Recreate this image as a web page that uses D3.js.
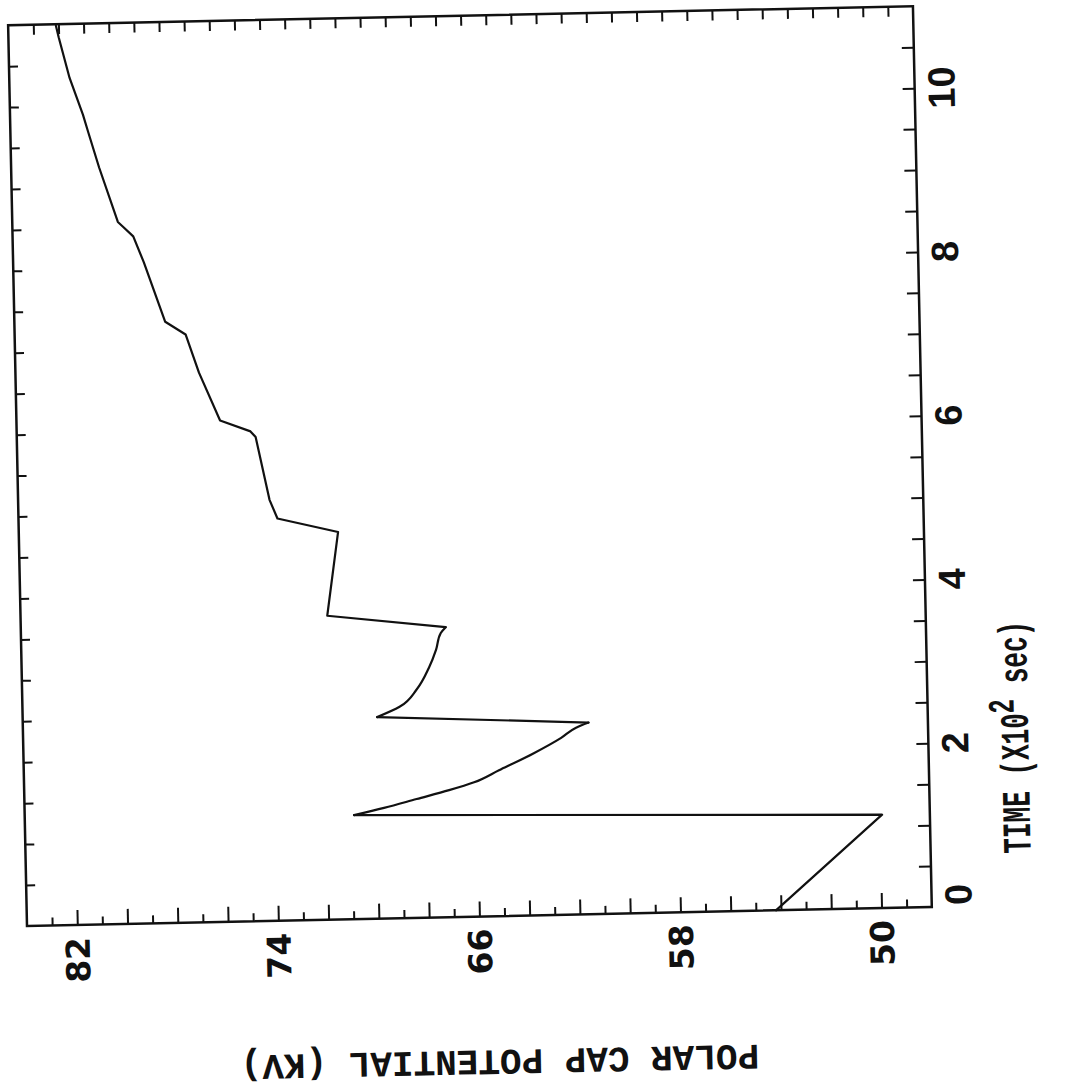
<!DOCTYPE html>
<html>
<head>
<meta charset="utf-8">
<script src="https://cdn.jsdelivr.net/npm/d3@7"></script>
<style>
body { margin: 0; background: #fff; }
svg { display: block; }
</style>
</head>
<body>
<svg id="chart"></svg>
<script>
// time along the curve, in units of 10^2 sec
var time_values = [0, 1.14, 1.27, 1.35, 1.45, 1.55, 1.64, 1.78, 1.98, 2.16,
                   2.28, 2.34, 2.46, 2.58, 2.79, 3.05, 3.27, 3.47, 3.54, 3.71,
                   4.73, 4.91, 5.14, 5.91, 5.98, 6.12, 6.71, 7.18, 7.34, 8.07,
                   8.39, 8.51, 8.57, 9.24, 9.67, 9.89, 10.34, 10.84, 10.98];

// polar cap potential (KV) at the same times
var potential_values = [54.2, 49.9, 70.9, 69.7, 68.4, 67.1, 66.1, 65.1, 63.7, 62.6,
                        62.0, 61.5, 69.9, 69.0, 68.3, 67.8, 67.5, 67.3, 67.1, 71.8,
                        71.3, 73.7, 74.0, 74.5, 74.7, 75.9, 76.7, 77.2, 78.0, 78.8,
                        79.2, 79.6, 79.8, 80.5, 80.9, 81.1, 81.6, 82.0, 82.1];

var potential_labels = [82, 74, 66, 58, 50];
var time_labels = [0, 2, 4, 6, 8, 10];
var potential_ticks = d3.range(49, 84);
var time_ticks = d3.range(0.5, 11, 0.5);

var width = 1078;
var height = 1089;

// plot box, before the page tilt is applied
var plot_left = 27;
var plot_right = 932;
var plot_top = 25;
var plot_bottom = 926;

// the scanned page sits a little crooked
var tilt = -1.2;

var ink = "#111";

var svg = d3.select("#chart")
    .attr("width", width)
    .attr("height", height);

var g = svg.append("g")
    .attr("transform", "rotate(" + tilt + "," + plot_left + "," + plot_bottom + ")");

// potential runs right to left, time runs bottom to top
var x = d3.scaleLinear().domain([84, 48]).range([plot_left, plot_right]);
var y = d3.scaleLinear().domain([0, 11]).range([plot_bottom, plot_top]);

/*
 * Draw tick marks only, no labels and no domain line.
 */
function drawTicks(axis, tx, ty) {
    g.append("g")
        .attr("transform", "translate(" + tx + "," + ty + ")")
        .call(axis)
        .call(function(s) {
            s.select(".domain").remove();
            s.selectAll("text").remove();
        })
        .selectAll("line")
        .attr("stroke", ink)
        .attr("stroke-width", 2);
}

function isEven(d) { return d % 2 == 0; }
function isOdd(d) { return d % 2 != 0; }

// bottom: long ticks on even KV, short on odd
drawTicks(d3.axisTop(x).tickValues(potential_ticks.filter(isEven)).tickSize(15), 0, plot_bottom);
drawTicks(d3.axisTop(x).tickValues(potential_ticks.filter(isOdd)).tickSize(8), 0, plot_bottom);
// top
drawTicks(d3.axisBottom(x).tickValues(potential_ticks).tickSize(10), 0, plot_top);
// left and right
drawTicks(d3.axisRight(y).tickValues(time_ticks).tickSize(9), plot_left, 0);
drawTicks(d3.axisLeft(y).tickValues(time_ticks).tickSize(12), plot_right, 0);

// frame
g.append("rect")
    .attr("x", plot_left)
    .attr("y", plot_top)
    .attr("width", plot_right - plot_left)
    .attr("height", plot_bottom - plot_top)
    .attr("fill", "none")
    .attr("stroke", ink)
    .attr("stroke-width", 2.5);

// the curve
var points = time_values.map(function(t, i) {
    return [potential_values[i], t];
});

// the two decays after the first jumps are smooth, the rest is straight pieces
var runs = [
    {from: 0, to: 2, curve: d3.curveLinear},
    {from: 2, to: 11, curve: d3.curveMonotoneY},
    {from: 11, to: 12, curve: d3.curveLinear},
    {from: 12, to: 18, curve: d3.curveMonotoneY},
    {from: 18, to: points.length - 1, curve: d3.curveLinear}
];

g.selectAll()
    .data(runs)
    .enter()
    .append("path")
    .attr("d", function(r) {
            return d3.line()
                .x(function(d) { return x(d[0]); })
                .y(function(d) { return y(d[1]); })
                .curve(r.curve)(points.slice(r.from, r.to + 1));
          })
    .attr("fill", "none")
    .attr("stroke", ink)
    .attr("stroke-width", 2.2)
    .attr("stroke-linejoin", "round")
    .attr("stroke-linecap", "round");

// potential labels, turned to read upwards
g.selectAll()
    .data(potential_labels)
    .enter()
    .append("text")
    .attr("transform", function(d) {
            return "translate(" + (x(d) + 12) + "," + (plot_bottom + 12) + ") rotate(-90)";
          })
    .attr("text-anchor", "end")
    .attr("font-family", "DejaVu Sans")
    .attr("font-weight", "bold")
    .attr("font-size", "33px")
    .attr("fill", ink)
    .text(function(d) { return d; });

// time labels; the 0 is pushed up off the corner
g.selectAll()
    .data(time_labels)
    .enter()
    .append("text")
    .attr("transform", function(d) {
            var ty = y(d) - (d == 0 ? 12 : 0);
            return "translate(" + (plot_right + 40) + "," + ty + ") rotate(-90)";
          })
    .attr("text-anchor", "middle")
    .attr("font-family", "Liberation Sans")
    .attr("font-weight", "bold")
    .attr("font-size", "38px")
    .attr("fill", ink)
    .text(function(d) { return d; });

// time axis title
var time_title = g.append("text")
    .attr("transform", "translate(1032,758) rotate(-90) scale(1,1.55)")
    .attr("text-anchor", "middle")
    .attr("font-family", "Liberation Mono")
    .attr("font-weight", "bold")
    .attr("font-size", "26px")
    .attr("fill", ink);
time_title.append("tspan").text("TIME (X10");
time_title.append("tspan").attr("dy", -9).attr("font-size", "24px").text("2");
time_title.append("tspan").attr("dy", 9).text(" sec)");

// potential axis title, printed upside down
g.append("text")
    .attr("transform", "translate(497,1060) rotate(180)")
    .attr("text-anchor", "middle")
    .attr("font-family", "Liberation Mono")
    .attr("font-weight", "bold")
    .attr("font-size", "36px")
    .attr("fill", ink)
    .text("POLAR CAP POTENTIAL (KV)");
</script>
</body>
</html>
